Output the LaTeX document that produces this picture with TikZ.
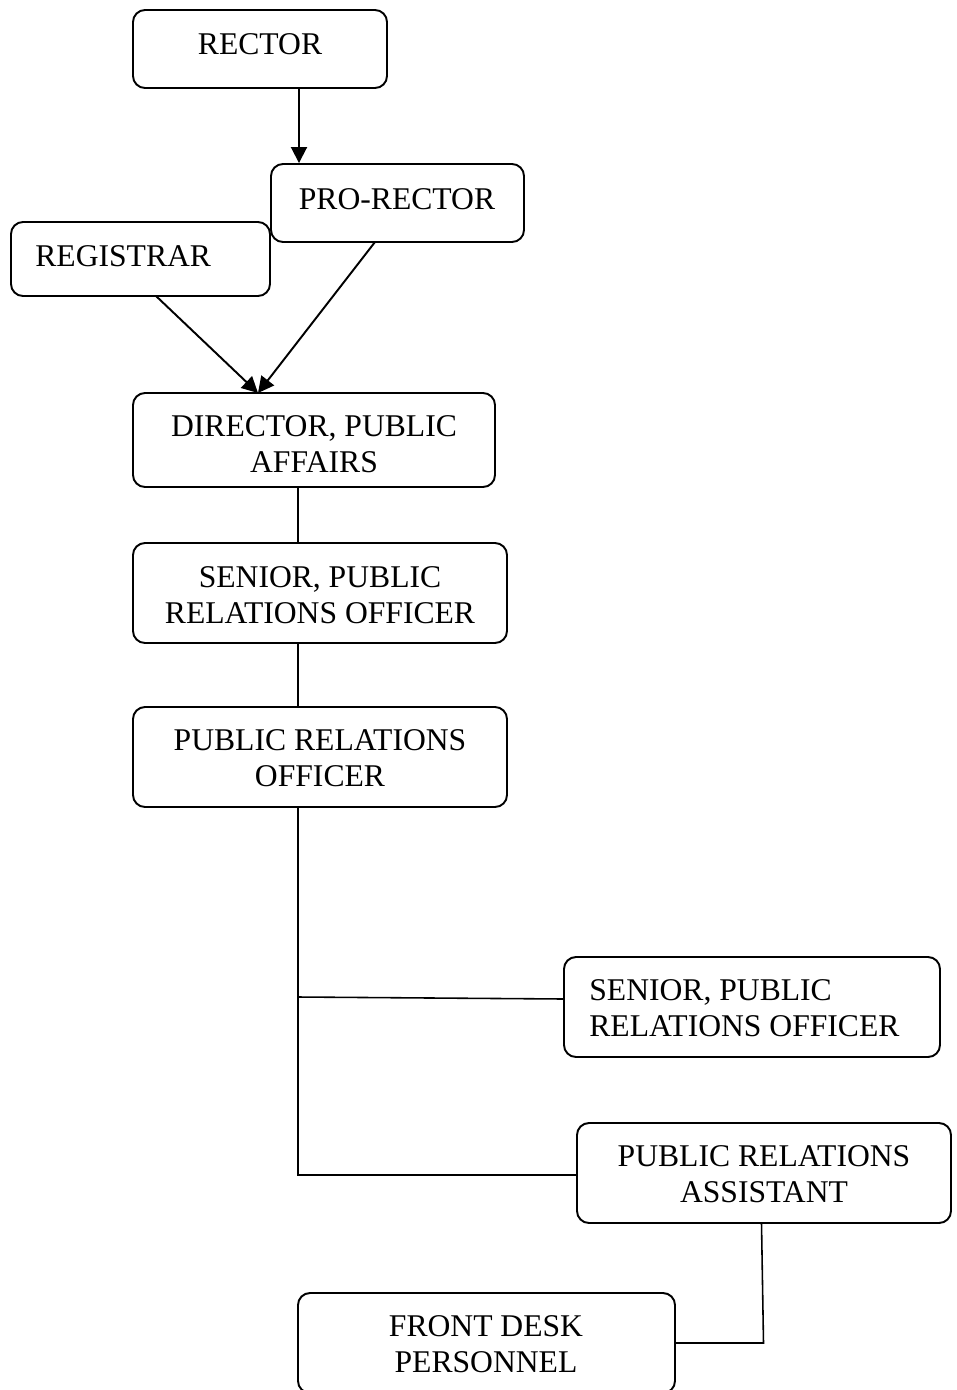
\documentclass[tikz,border=0pt]{standalone}
\usepackage{fontspec}
\setmainfont{Liberation Serif}
\usetikzlibrary{arrows.meta,fit}
\begin{document}
\begin{tikzpicture}[x=0.02cm,y=-0.02cm,
  box/.style={draw, rounded corners=0.24cm, inner sep=0pt, line width=1.1pt},
  lbl/.style={anchor=north, inner sep=0pt, align=center, font=\fontsize{18pt}{20.8pt}\selectfont},
  lbll/.style={lbl, anchor=north west, align=left},
  arr/.style={line width=1.1pt, -{Triangle[length=0.32cm,width=0.32cm]}},
  conn/.style={line width=0.9pt}]
\useasboundingbox (0,0) rectangle (957,1390);
% boxes
\node[box, fit={(133,10)(387,88)}] (rector) {};
\node[box, fit={(271,164)(524,242)}] (prorector) {};
\node[box, fit={(11,222)(270,296)}] (registrar) {};
\node[box, fit={(133,393)(495,487)}] (director) {};
\node[box, fit={(133,543)(507,643)}] (senior) {};
\node[box, fit={(133,707)(507,807)}] (pro) {};
\node[box, fit={(564,957)(940,1057)}] (senior2) {};
\node[box, fit={(577,1123)(951,1223)}] (pra) {};
\node[box, fit={(298,1293)(675,1393)}] (front) {};
% texts
\node[lbl] (rector-t) at (260,33) {RECTOR};
\node[lbl] (prorector-t) at (397,188) {PRO-RECTOR};
\node[lbll] (registrar-t) at (35,245) {REGISTRAR};
\node[lbl] (director-t) at (314,415) {DIRECTOR, PUBLIC\\AFFAIRS};
\node[lbl] (senior-t) at (320,566) {SENIOR, PUBLIC\\RELATIONS OFFICER};
\node[lbl] (pro-t) at (320,729) {PUBLIC RELATIONS\\OFFICER};
\node[lbll] (senior2-t) at (589,979) {SENIOR, PUBLIC\\RELATIONS OFFICER};
\node[lbl] (pra-t) at (764,1145) {PUBLIC RELATIONS\\ASSISTANT};
\node[lbl] (front-t) at (486,1315) {FRONT DESK\\PERSONNEL};
% connector points
\coordinate (a1) at (299,88);
\coordinate (regout) at (156,296);
\coordinate (proout) at (375,242);
\coordinate (dirin) at (258,393);
\coordinate (v1) at (298,487);
\coordinate (v2) at (298,643);
\coordinate (v3) at (298,807);
\coordinate (v4) at (298,1175);
\coordinate (b1) at (298,997);
\coordinate (b2) at (564,999);
\coordinate (p1) at (761.5,1223);
\coordinate (p2) at (763.5,1343);
% connectors
\draw[arr] (a1) -- (a1 |- prorector.north);
\draw[arr] (regout) -- (dirin);
\draw[arr] (proout) -- (dirin);
\draw[conn] (v1) -- (v1 |- senior.north);
\draw[conn] (v2) -- (v2 |- pro.north);
\draw[conn] (v3) -- (v4) -- (v4 -| pra.west);
\draw[conn] (b1) -- (b2);
\draw[conn] (p1) -- (p2) -- (p2 -| front.east);
\end{tikzpicture}
\end{document}
